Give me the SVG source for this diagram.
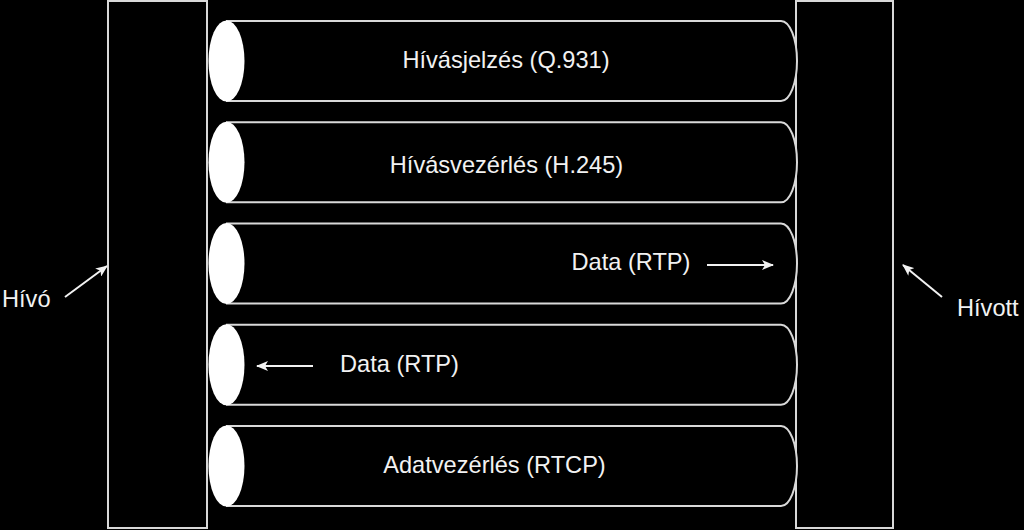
<svg xmlns="http://www.w3.org/2000/svg" width="1024" height="530" viewBox="0 0 1024 530">
  <style>
    .box { fill: #000; stroke: #d9d9d9; stroke-width: 2; }
    .pipe { fill: #000; stroke: #d9d9d9; stroke-width: 2; }
    .cap { fill: #fff; stroke: none; }
    .lbl { font-family: "Liberation Sans", Arial, sans-serif; font-size: 23.6px; fill: #f2f2f2; }
    .conn { stroke: #f2f2f2; stroke-width: 2; fill: none; marker-end: url(#ah); }
  </style>
  <defs>
    <marker id="ah" markerWidth="12" markerHeight="10" refX="11" refY="5" orient="auto" markerUnits="userSpaceOnUse">
      <path d="M0,0 L12,5 L0,10 L3,5 Z" fill="#f2f2f2"/>
    </marker>
  </defs>
  <rect x="0" y="0" width="1024" height="530" fill="#000"/>

  <g id="hivo-box">
    <rect class="box" x="108" y="1" width="99" height="527"/>
  </g>
  <g id="hivott-box">
    <rect class="box" x="796" y="1" width="97" height="527"/>
  </g>

  <g id="pipe-q931">
    <path class="pipe" d="M226,21 H781 A16,40 0 0 1 781,101 H226"/>
    <ellipse class="cap" cx="226.5" cy="61" rx="18" ry="40.5"/>
    <text class="lbl" x="506" y="67.5" text-anchor="middle">Hívásjelzés (Q.931)</text>
  </g>
  <g id="pipe-h245">
    <path class="pipe" d="M226,122.25 H781 A16,40 0 0 1 781,202.25 H226"/>
    <ellipse class="cap" cx="226.5" cy="162.25" rx="18" ry="40.5"/>
    <text class="lbl" x="506.5" y="172.5" text-anchor="middle">Hívásvezérlés (H.245)</text>
  </g>
  <g id="pipe-rtp-out">
    <path class="pipe" d="M226,223.5 H781 A16,40 0 0 1 781,303.5 H226"/>
    <ellipse class="cap" cx="226.5" cy="263.5" rx="18" ry="40.5"/>
    <text class="lbl" x="631" y="269.5" text-anchor="middle">Data (RTP)</text>
  </g>
  <g id="pipe-rtp-in">
    <path class="pipe" d="M226,324.75 H781 A16,40 0 0 1 781,404.75 H226"/>
    <ellipse class="cap" cx="226.5" cy="364.75" rx="18" ry="40.5"/>
    <text class="lbl" x="399.5" y="371.5" text-anchor="middle">Data (RTP)</text>
  </g>
  <g id="pipe-rtcp">
    <path class="pipe" d="M226,426 H781 A16,40 0 0 1 781,506 H226"/>
    <ellipse class="cap" cx="226.5" cy="466" rx="18" ry="40.5"/>
    <text class="lbl" x="494.5" y="472.5" text-anchor="middle">Adatvezérlés (RTCP)</text>
  </g>

  <g id="hivo-label">
    <text class="lbl" x="2" y="306.5">Hívó</text>
  </g>
  <g id="hivott-label">
    <text class="lbl" x="957" y="315.5">Hívott</text>
  </g>

  <g id="connectors">
    <line class="conn" x1="65" y1="297" x2="107" y2="266"/>
    <line class="conn" x1="942" y1="297" x2="903" y2="265"/>
    <line class="conn" x1="707" y1="265" x2="773" y2="265"/>
    <line class="conn" x1="313" y1="366" x2="257" y2="366"/>
  </g>
</svg>
